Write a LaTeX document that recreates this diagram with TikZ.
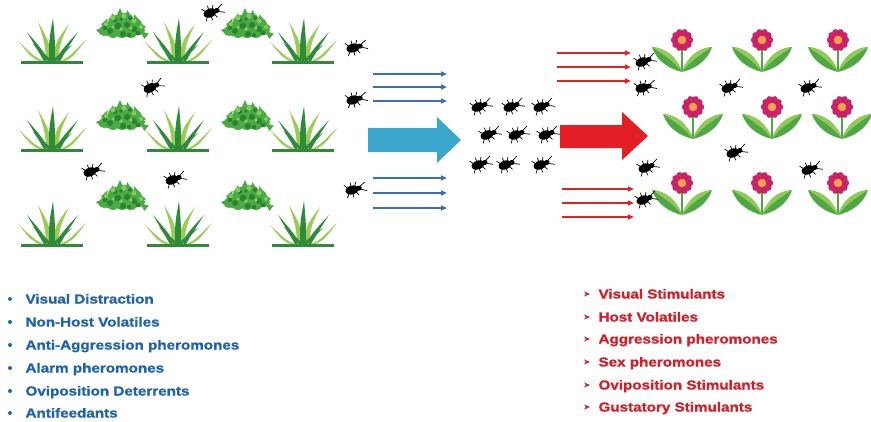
\documentclass[tikz,border=0pt]{standalone}
\usepackage{fontspec}
\usetikzlibrary{arrows.meta}
\newfontfamily\lblfont{Liberation Sans Bold}[FakeStretch=1.17, FakeBold=1.3]

\definecolor{grassdark}{HTML}{2E8B3A}
\definecolor{grasslight}{HTML}{9ACB55}
\definecolor{bushmid}{HTML}{4AAB45}
\definecolor{bushdark}{HTML}{2C8031}
\definecolor{bushlight}{HTML}{86CC5A}
\definecolor{leafdark}{HTML}{4EA843}
\definecolor{leaflight}{HTML}{93C957}
\definecolor{petal}{HTML}{D3226C}
\definecolor{petaledge}{HTML}{A0124D}
\definecolor{flowercore}{HTML}{F5A24C}
\definecolor{bigblue}{HTML}{3AA6CC}
\definecolor{bigred}{HTML}{E31E24}
\definecolor{thinblue}{HTML}{3D6DB5}
\definecolor{thinred}{HTML}{E02424}
\definecolor{txtblue}{HTML}{1F63AE}
\definecolor{txtred}{HTML}{D2202A}

% one blade of grass: base x, half width, control x, control y, tip x, tip y, colour
\newcommand{\gblade}[7]{%
  \fill[#7] ({#1-#2},0) .. controls ({#3-#2},#4) .. (#5,#6)
    .. controls ({#3+#2},#4) .. ({#1+#2},0) -- cycle;}

\tikzset{
  grass/.pic={
    \gblade{-8}{2.2}{-18}{-4}{-33}{-20}{grasslight}
    \gblade{8}{2.2}{18}{-4}{34}{-22}{grasslight}
    \gblade{-5}{2.5}{-12}{-12}{-25}{-30}{grassdark}
    \gblade{5}{2.5}{12}{-12}{26}{-30}{grassdark}
    \gblade{-3}{2.5}{-5}{-20}{-14}{-40}{grasslight}
    \gblade{3}{2.5}{6}{-20}{17}{-38}{grasslight}
    \gblade{-1}{2}{-9}{-8}{-19}{-18}{grassdark}
    \gblade{1}{2}{9}{-8}{20}{-17}{grassdark}
    \gblade{0}{3}{0}{-22}{1}{-44}{grassdark}
    \fill[grassdark] (-31,-1) rectangle (31,1.8);
  },
  bush/.pic={
    % pointed leaf tips round the crown
    \foreach \x/\y/\t in {-10/-10/-10,-2/-15/0,6/-13/5,14/-9/15,-17/-5/-25,20/-2/30,-22/2/-45,1/-11/0,23/6/50}
      \fill[bushmid, rotate around={\t:(\x,\y+4)}] (\x-3.5,\y+6) -- (\x,\y-2) -- (\x+3.5,\y+6) -- cycle;
    \foreach \x/\y/\r in {-14/4/7,-6/-2/8,4/-4/8,13/0/7,18/5/5,-18/6/5,0/5/8,9/6/7,-9/7/6}
      \fill[bushmid] (\x,\y) circle (\r);
    \foreach \x/\y/\r in {-12/6/3,-4/1/3.4,5/0/3,12/4/3,1/9/3,-17/3/2.2,16/8/2.4,7/10/2.2,-7/-5/2.2,8/-7/2,-1/-6/1.8}
      \fill[bushdark] (\x,\y) circle (\r);
    \foreach \x/\y/\r in {-9/-7/2.4,2/-9/2.6,12/-4/2.4,-16/-1/2,19/2/2,-1/4/1.8,9/3/1.8,-9/2/1.6}
      \fill[bushlight] (\x,\y) circle (\r);
  },
  flower/.pic={
    \draw[leafdark, line width=1.6pt] (0,8) -- (0,32);
    \fill[leafdark] (0,32) .. controls (-6,15) and (-18,8) .. (-30,7)
      .. controls (-25,22) and (-12,29) .. (0,32) -- cycle;
    \fill[leaflight] (0,32) .. controls (-6,15) and (-18,8) .. (-30,7)
      .. controls (-18,15) and (-8,21) .. (0,32) -- cycle;
    \fill[leafdark] (0,32) .. controls (6,15) and (18,8) .. (30,7)
      .. controls (25,22) and (12,29) .. (0,32) -- cycle;
    \fill[leaflight] (0,32) .. controls (6,15) and (18,8) .. (30,7)
      .. controls (18,15) and (8,21) .. (0,32) -- cycle;
    \foreach \a in {0,36,...,324}
      \filldraw[fill=petal, draw=petaledge, line width=0.3pt, rotate=\a] (7,0) ellipse (4 and 3.2);
    \fill[flowercore] (0,0) circle (4.3);
  },
  beetle/.pic={
    \begin{scope}[scale=1.1]
    \draw[black, line width=0.7pt]
      (-3,-2) -- (-6,-6) (0,-3) -- (0,-7) (3,-2) -- (5,-6)
      (-3,2) -- (-6,6) (0,3) -- (0,7) (3,2) -- (5,6)
      (7,-1) -- (13,-4) (7,1) -- (13,4);
    \fill[black] (0,0) ellipse (6 and 4);
    \fill[black] (6.5,0) ellipse (2.6 and 2.3);
    \end{scope}
  },
  bluelist/.style={anchor=base west, text=txtblue, font=\lblfont\fontsize{13}{15}\selectfont},
  redlist/.style={anchor=base west, text=txtred, font=\lblfont\fontsize{13}{15}\selectfont},
  thinblue arrow/.style={thinblue, line width=1.5pt, -{Triangle[length=6pt,width=5pt]}},
  thinred arrow/.style={thinred, line width=1.5pt, -{Triangle[length=6pt,width=5pt]}},
}

\begin{document}
\begin{tikzpicture}[x=1pt, y=-1pt]
\useasboundingbox[fill=white] (0,0) rectangle (871,421);

% field of grass and leafy bushes
\foreach \gx in {52,178,303}
  \foreach \gy in {62,150,245}
    \pic at (\gx,\gy) {grass};
\foreach \bx in {122,247}
  \foreach \by in {25,117,197}
    \pic at (\bx,\by) {bush};

% beetles wandering in the grass
\foreach \px/\py/\pr in {210/13/20,353/48/15,150/88/25,353/100/15,90/172/20,172/180/20,352/190/15}
  \pic[rotate=\pr] at (\px,\py) {beetle};

% thin blue arrows
\foreach \ty in {74,87,101,178,193,208}
  \draw[thinblue arrow] (373,\ty) -- (447,\ty);

% big blue arrow
\fill[bigblue] (368,128) -- (437,128) -- (437,117) -- (461,140) -- (437,163)
  -- (437,152) -- (368,152) -- cycle;

% swarm in the middle
\foreach \px/\py in {478/107,510/107,540/107,487/135,515/135,545/135,478/165,505/165,540/165}
  \pic[rotate=20] at (\px,\py) {beetle};

% big red arrow
\fill[bigred] (560,125) -- (622,125) -- (622,112) -- (648,136) -- (622,160)
  -- (622,148) -- (560,148) -- cycle;

% thin red arrows
\foreach \ty in {53,67,81}
  \draw[thinred arrow] (557,\ty) -- (631,\ty);
\foreach \ty in {189,203,217}
  \draw[thinred arrow] (562,\ty) -- (634,\ty);

% flower field
\foreach \fx/\fy in {682/40,762/40,838/40,693/107,772/107,842/107,682/183,762/183,838/183}
  \pic at (\fx,\fy) {flower};

% beetles among the flowers
\foreach \px/\py/\pr in {642/62/20,642/88/15,728/88/20,807/88/20,733/153/20,645/168/20,808/170/20,643/200/20}
  \pic[rotate=\pr] at (\px,\py) {beetle};

% left list
\foreach \ly in {299,322,345,368,391,413}
  \fill[txtblue] (10,\ly) circle (2);
\node[bluelist] (b1) at (22,303.5) {Visual Distraction};
\node[bluelist] (b2) at (22,326.5) {Non-Host Volatiles};
\node[bluelist] (b3) at (22,349.5) {Anti-Aggression pheromones};
\node[bluelist] (b4) at (22,372.5) {Alarm pheromones};
\node[bluelist] (b5) at (22,395.5) {Oviposition Deterrents};
\node[bluelist] (b6) at (22,417.5) {Antifeedants};

% right list
\foreach \ly in {294,317,339,362,385,407}
  \fill[txtred] (584,\ly-2.6) -- (590,\ly) -- (584,\ly+2.6) -- (585.8,\ly) -- cycle;
\node[redlist] (r1) at (595,298.5) {Visual Stimulants};
\node[redlist] (r2) at (595,321.5) {Host Volatiles};
\node[redlist] (r3) at (595,343.5) {Aggression pheromones};
\node[redlist] (r4) at (595,366.5) {Sex pheromones};
\node[redlist] (r5) at (595,389.5) {Oviposition Stimulants};
\node[redlist] (r6) at (595,411.5) {Gustatory Stimulants};
\end{tikzpicture}
\end{document}
